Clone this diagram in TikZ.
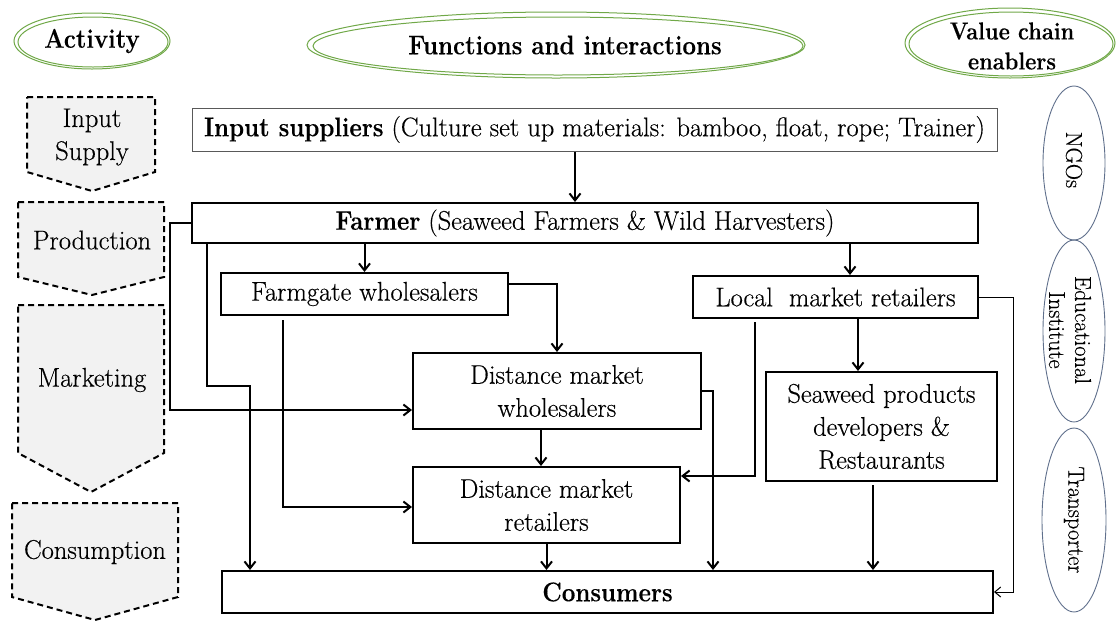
\documentclass[tikz,border=0pt]{standalone}
\usepackage{fontspec}
\setmainfont{Latin Modern Roman}[FakeStretch=0.98, FakeBold=0.35, BoldFeatures={FakeStretch=0.89, FakeBold=0.2}]
\usetikzlibrary{arrows.meta}
\definecolor{ovalgreen}{RGB}{112,168,72}
\definecolor{ovalblue}{RGB}{96,112,140}
\definecolor{stagefill}{RGB}{242,242,242}

\begin{document}
\begin{tikzpicture}[x=1pt,y=-1pt,
  every node/.style={font=\rmfamily\fontsize{27}{33}\selectfont},
  box/.style={draw=black, line width=2pt, inner sep=0pt, align=center},
  thinbox/.style={draw=black!65, line width=1pt, inner sep=0pt},
  flow/.style={line width=2pt, -{Straight Barb[length=7pt,width=11pt]}},
  thinflow/.style={line width=1pt, -{Straight Barb[length=6pt,width=10pt]}},
  stage/.style={fill=stagefill, draw=black, line width=2pt, dash pattern=on 6pt off 4pt, line join=miter},
  stagetext/.style={align=center, inner sep=0pt},
  header/.style={draw=ovalgreen, line width=1pt},
  enabler/.style={draw=ovalblue, line width=0.9pt},
  enablertext/.style={rotate=-90, align=center, inner sep=0pt, font=\rmfamily\fontsize{23}{26}\selectfont},
]
\useasboundingbox (0,0) rectangle (1119,622);

% column headers
\draw[header] (92,41) ellipse [x radius=78, y radius=28];
\draw[header] (93,42) ellipse [x radius=75, y radius=25];
\node[font=\rmfamily\fontsize{27}{33}\selectfont\bfseries] (hActivity) at (92,41) {Activity};

\draw[header] (556,45) ellipse [x radius=249, y radius=33];
\draw[header] (558,46) ellipse [x radius=245, y radius=29];
\node[font=\rmfamily\fontsize{27}{33}\selectfont\bfseries] (hFunctions) at (565,45) {Functions and interactions};

\draw[header] (1010,43) ellipse [x radius=105, y radius=35];
\draw[header] (1011,44) ellipse [x radius=102, y radius=32];
\node[font=\rmfamily\fontsize{24.5}{30}\selectfont\bfseries, align=center] (hEnablers) at (1012,46) {Value chain\\enablers};

% activity stages
\draw[stage] (27,97) -- (155,97) -- (155,172) -- (92,191) -- (27,172) -- cycle;
\node[stagetext] (sInput) at (92,137) {Input\\Supply};
\draw[stage] (18,202) -- (164,202) -- (164,277) -- (92,295) -- (18,277) -- cycle;
\node[stagetext] (sProduction) at (92,240) {Production};
\draw[stage] (18,305) -- (164,305) -- (164,453) -- (91,492) -- (18,453) -- cycle;
\node[stagetext] (sMarketing) at (92,380) {Marketing};
\draw[stage] (12,503) -- (178,503) -- (178,597) -- (95,620) -- (12,597) -- cycle;
\node[stagetext] (sConsumption) at (95,552) {Consumption};

% value chain enablers
\draw[enabler] (1074,163) ellipse [x radius=31, y radius=77];
\node[enablertext] (eNGO) at (1074,160) {NGOs};
\draw[enabler] (1074,331) ellipse [x radius=31, y radius=91];
\node[enablertext] (eEdu) at (1070,330) {Educational\\Institute};
\draw[enabler] (1074,520) ellipse [x radius=32, y radius=92];
\node[enablertext] (eTrans) at (1074,520) {Transporter};

% actors
\node[thinbox, minimum width=805pt, minimum height=43pt] (insup) at (594.5,129.5)
  {\textbf{Input suppliers} (Culture set up materials: bamboo, float, rope; Trainer)};
\node[box, minimum width=786pt, minimum height=40pt] (farmer) at (585,223)
  {\textbf{Farmer} (Seaweed Farmers \& Wild Harvesters)};
\node[box, minimum width=287pt, minimum height=42pt] (farmgate) at (364.5,294) {Farmgate wholesalers};
\node[box, minimum width=285pt, minimum height=42pt] (local) at (835.5,297) {Local~ market retailers};
\node[box, minimum width=288pt, minimum height=76pt] (dmw) at (557,391) {Distance market\\wholesalers};
\node[box, minimum width=231pt, minimum height=109pt] (seaweed) at (881.5,426.5) {Seaweed products\\developers \&\\Restaurants};
\node[box, minimum width=267pt, minimum height=76pt] (dmr) at (546.5,505) {Distance market\\retailers};
\node[box, minimum width=771pt, minimum height=42pt, font=\rmfamily\fontsize{27}{33}\selectfont\bfseries] (consumers) at (607.5,592) {Consumers};

% trunk positions of the connectors
\coordinate (tA) at (575,0);
\coordinate (tB) at (850,0);
\coordinate (bendA) at (207,386);
\coordinate (bendB) at (250,386);
\coordinate (tF) at (283,0);
\coordinate (tG) at (541,0);
\coordinate (tH) at (713,0);
\coordinate (tI) at (755,0);
\coordinate (tJ) at (858,0);
\coordinate (tK) at (873,0);
\coordinate (tL) at (1013,0);

% flows
\draw[flow] (insup.south -| tA) -- (farmer.north -| tA);
\draw[flow] (farmer.south -| farmgate.north) -- (farmgate.north);
\draw[flow] (farmer.south -| tB) -- (local.north -| tB);
\draw[flow] (farmer.west) -- ++(-21,0) |- ([yshift=-19pt]dmw.west);
\draw[flow] (farmer.south -| bendA) -- (bendA) -- (bendB) -- (consumers.north -| bendB);
\draw[flow] ([yshift=10pt]farmgate.east) -| (dmw.north);
\draw[flow] ([yshift=-4pt]farmgate.south -| tF) |- ([yshift=-2pt]dmr.west);
\draw[flow] (dmw.south -| tG) -- (dmr.north -| tG);
\draw[flow] (dmr.south) -- (dmr.south |- consumers.north);
\draw[flow] (dmw.east) -- (tH |- dmw.east) -- (consumers.north -| tH);
\draw[flow] ([yshift=-3pt]local.south -| tI) |- ([yshift=29pt]dmr.east);
\draw[flow] (local.south -| tJ) -- (seaweed.north -| tJ);
\draw[flow] ([yshift=-3pt]seaweed.south -| tK) -- (consumers.north -| tK);
\draw[thinflow] (local.east) -- (tL |- local.east) -- (tL |- consumers.east) -- (consumers.east);
\end{tikzpicture}
\end{document}
